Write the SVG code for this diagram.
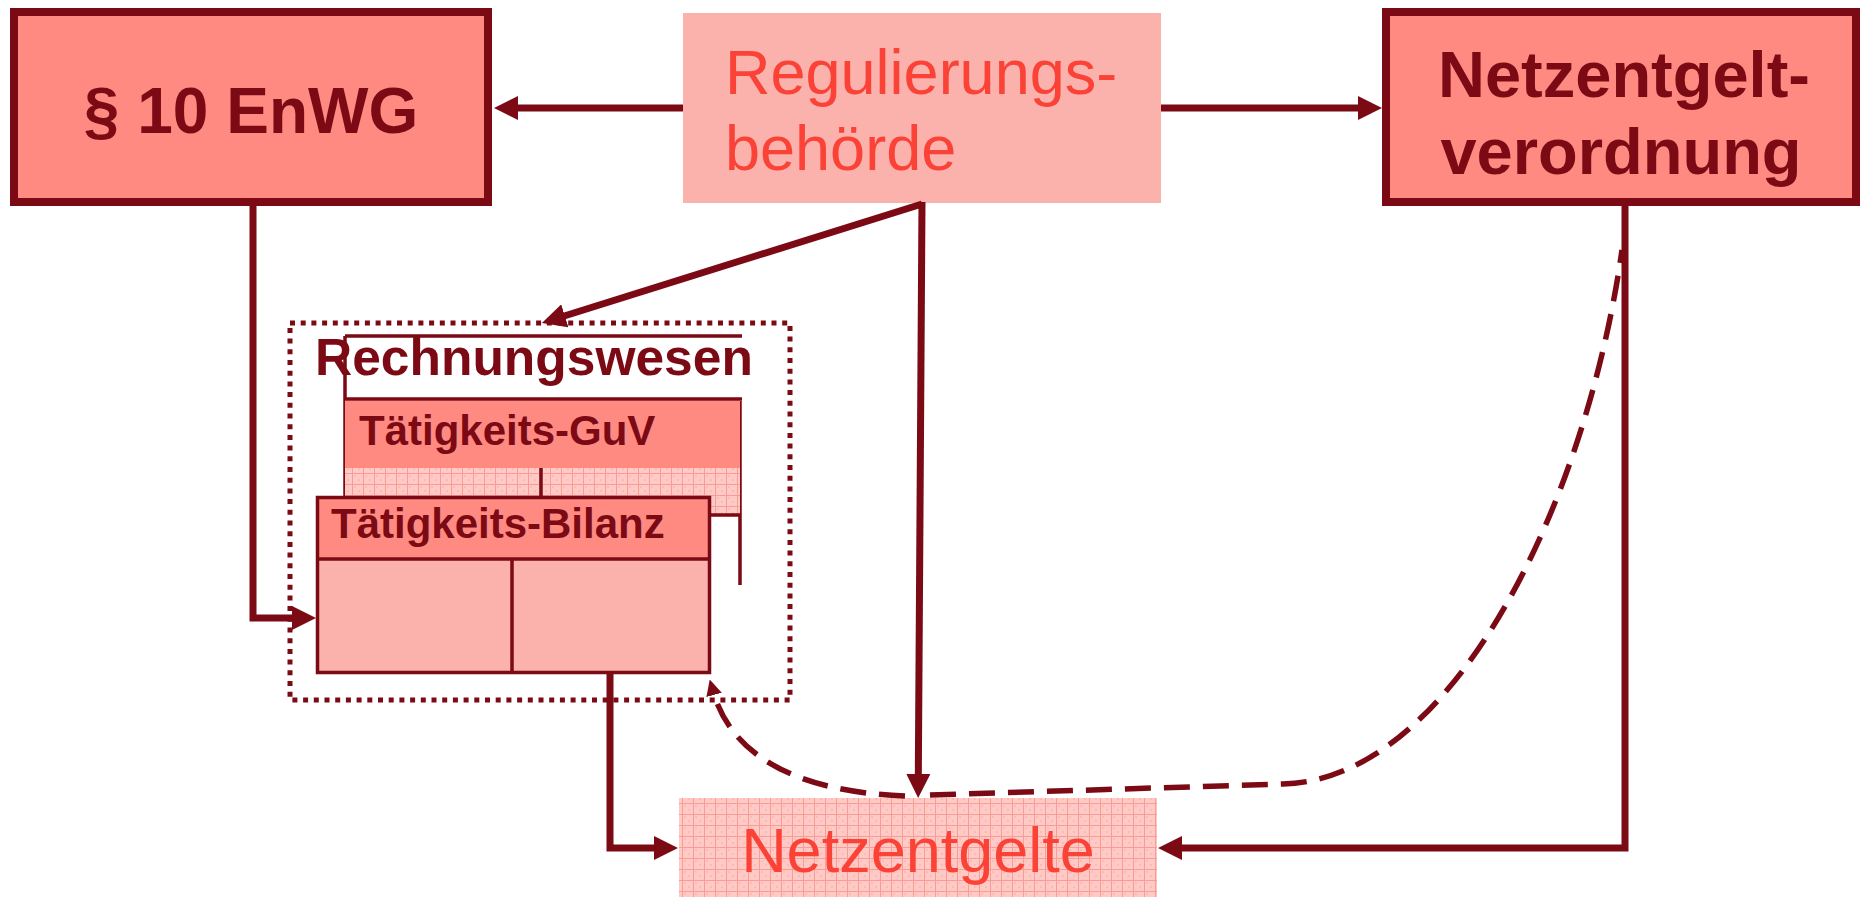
<svg xmlns="http://www.w3.org/2000/svg" width="1863" height="897" viewBox="0 0 1863 897">
<style>
.box{fill:#FF8A82;stroke:#7B0A15;stroke-width:8}
.soft{fill:#FBB1AC}
.dark{font-family:"Liberation Sans",Arial,sans-serif;font-weight:bold;fill:#7B0A15}
.red{font-family:"Liberation Sans",Arial,sans-serif;fill:#FA4237}
.ln{fill:none;stroke:#7B0A15;stroke-width:7}
.thin{fill:none;stroke:#7B0A15;stroke-width:3.5}
.dash{fill:none;stroke:#7B0A15;stroke-width:5.5;stroke-dasharray:26 13}
</style>
<defs>
<marker id="arr" viewBox="0 0 24 24" refX="4" refY="12" markerWidth="24" markerHeight="24" markerUnits="userSpaceOnUse" orient="auto">
<path d="M0,0 L24,12 L0,24 z" fill="#7B0A15"/>
</marker>
<marker id="arrs" viewBox="0 0 16 16" refX="4" refY="8" markerWidth="16" markerHeight="16" markerUnits="userSpaceOnUse" orient="auto">
<path d="M0,0 L16,8 L0,16 z" fill="#7B0A15"/>
</marker>
<pattern id="grid" width="11" height="11" patternUnits="userSpaceOnUse">
<rect width="11" height="11" fill="#FFCAC6"/>
<rect x="2" y="2" width="2" height="2" fill="#FDBAB5"/>
<rect x="6" y="6" width="2" height="2" fill="#FDBAB5"/>
<path d="M0,0.5 H11 M0.5,0 V11" stroke="#F79D96" stroke-width="1"/>
</pattern>
</defs>

<g id="enwg">
<rect class="box" x="14" y="12" width="474" height="190"/>
<text class="dark" x="251" y="133" font-size="64" text-anchor="middle">§ 10 EnWG</text>
</g>

<g id="regulierungsbehoerde">
<rect class="soft" x="683" y="13" width="478" height="190"/>
<text class="red" x="725" y="94" font-size="63">Regulierungs-</text>
<text class="red" x="725" y="170" font-size="63">behörde</text>
</g>

<g id="netzentgeltverordnung">
<rect class="box" x="1386" y="12" width="470" height="190"/>
<text class="dark" x="1624" y="97" font-size="65" text-anchor="middle">Netzentgelt-</text>
<text class="dark" x="1621" y="174" font-size="65" text-anchor="middle">verordnung</text>
</g>

<g id="rechnungswesen">
<rect x="290" y="323" width="500" height="377" fill="none" stroke="#7B0A15" stroke-width="5" stroke-dasharray="5 5.7"/>
<path class="thin" d="M345,336 H742 M345,336 V497 M740,401 V585"/>
<g id="guv">
<rect x="345" y="399" width="395" height="116" fill="url(#grid)"/>
<rect x="345" y="401" width="395" height="67" fill="#FF8A82"/>
<path class="thin" d="M345,399 H742 M541,468 V515 M711,515 H741"/>
<text class="dark" x="359" y="445" font-size="42">Tätigkeits-GuV</text>
</g>
<text class="dark" x="315" y="375" font-size="51.5">Rechnungswesen</text>
<g id="bilanz">
<rect x="317.5" y="497.5" width="392" height="61.5" fill="#FF8A82"/>
<rect x="317.5" y="559" width="392" height="113.5" fill="#FBB1AC"/>
<rect x="317.5" y="497.5" width="392" height="175" fill="none" stroke="#7B0A15" stroke-width="3.5"/>
<path class="thin" d="M317.5,559 H709.5 M512,559 V672.5"/>
<text class="dark" x="331" y="538" font-size="42">Tätigkeits-Bilanz</text>
</g>
</g>

<g id="netzentgelte">
<rect x="679" y="798" width="478" height="110" fill="url(#grid)"/>
<text class="red" x="918" y="872" font-size="63" text-anchor="middle">Netzentgelte</text>
</g>

<g id="connectors">
<path class="ln" d="M683,108 H514" marker-end="url(#arr)"/>
<path class="ln" d="M1161,108 H1362" marker-end="url(#arr)"/>
<path class="ln" d="M922,204 L561,317" marker-end="url(#arr)"/>
<path class="ln" d="M922,202 L918.3,778" marker-end="url(#arr)"/>
<path class="ln" d="M253,206 V618 H296" marker-end="url(#arr)"/>
<path class="ln" d="M610,673 V848 H658" marker-end="url(#arr)"/>
<path class="ln" d="M1625,206 V848 H1178" marker-end="url(#arr)"/>
<path class="dash" d="M905,796 C800,792 732,758 713,691" marker-end="url(#arrs)"/>
<path class="dash" d="M930,795 L1283,784 C1450,780 1585,510 1622,250"/>
</g>
</svg>
